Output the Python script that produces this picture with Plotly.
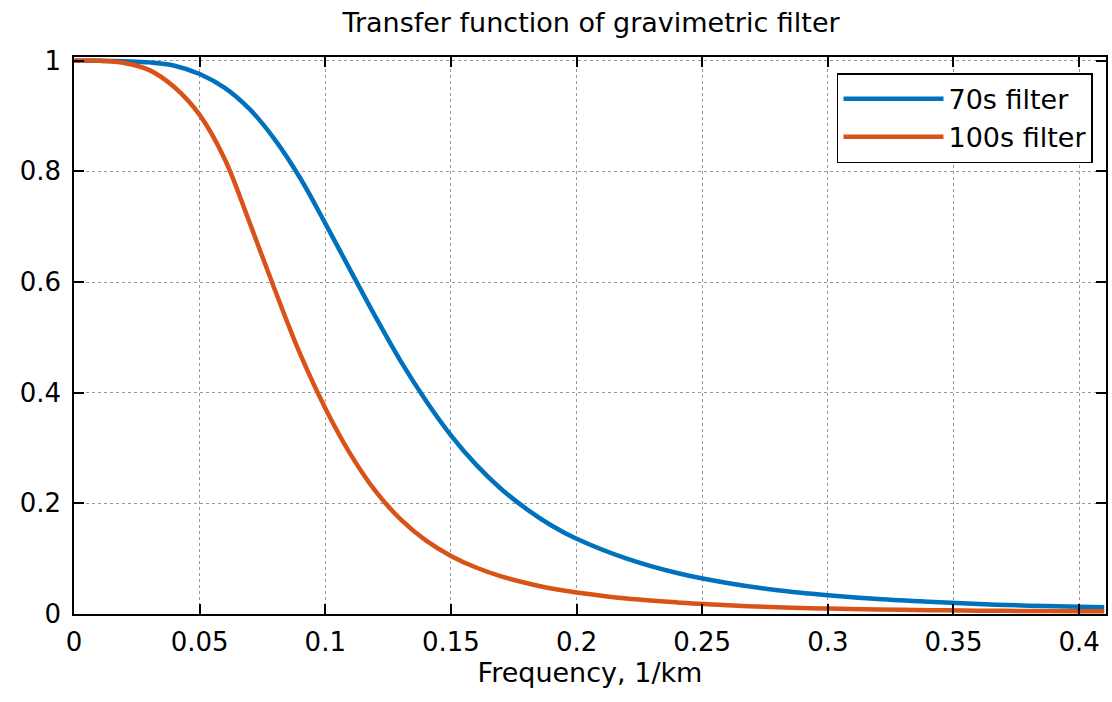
import plotly.graph_objects as go

freq = [0, 0.01, 0.02, 0.03, 0.04, 0.05, 0.06, 0.07, 0.08, 0.09, 0.10,
        0.11, 0.12, 0.13, 0.14, 0.15, 0.16, 0.17, 0.18, 0.19, 0.20,
        0.22, 0.24, 0.26, 0.28, 0.30, 0.32, 0.34, 0.36, 0.38, 0.40, 0.41]

filter_70s = [1.0, 1.0, 0.999, 0.997, 0.991, 0.976, 0.951, 0.912, 0.857, 0.788, 0.706,
              0.621, 0.537, 0.457, 0.386, 0.323, 0.270, 0.226, 0.190, 0.160, 0.136,
              0.100, 0.074, 0.056, 0.043, 0.034, 0.027, 0.022, 0.018, 0.015, 0.013, 0.012]

filter_100s = [1.0, 0.9998, 0.996, 0.983, 0.952, 0.902, 0.822, 0.706, 0.585, 0.470, 0.372,
               0.289, 0.222, 0.171, 0.133, 0.105, 0.084, 0.068, 0.056, 0.046, 0.039,
               0.028, 0.021, 0.016, 0.012, 0.010, 0.008, 0.007, 0.006, 0.0055, 0.005, 0.005]

x_ticks = [0, 0.05, 0.1, 0.15, 0.2, 0.25, 0.3, 0.35, 0.4]
y_ticks = [0, 0.2, 0.4, 0.6, 0.8, 1]

FONT = "DejaVu Sans"

fig = go.Figure()
fig.add_trace(go.Scatter(x=freq, y=filter_70s, mode="lines", name="70s filter",
                         line=dict(color="#0072BD", width=4.5, shape="spline")))
fig.add_trace(go.Scatter(x=freq, y=filter_100s, mode="lines", name="100s filter",
                         line=dict(color="#D95319", width=4.5, shape="spline")))

axis_common = dict(
    showline=True, linecolor="#000000", linewidth=1.5, mirror="ticks",
    ticks="inside", ticklen=10, tickwidth=1.5, tickcolor="#000000",
    showgrid=True, gridcolor="#9a9a9a", gridwidth=1, griddash="dot",
    zeroline=False, tickfont=dict(family=FONT, size=26, color="#000000"),
)

fig.update_layout(
    width=1112, height=702,
    margin=dict(l=74, r=4, t=57, b=88),
    paper_bgcolor="white", plot_bgcolor="white",
    font=dict(family=FONT, size=26, color="#000000"),
    title=dict(text="Transfer function of gravimetric filter", x=0.5315, xanchor="center",
               y=1 - 23 / 702, yanchor="middle",
               font=dict(family=FONT, size=27, color="#000000")),
    xaxis=dict(range=[0, 0.4107], tickvals=x_ticks, ticktext=[str(v) for v in x_ticks],
               title=dict(text="Frequency, 1/km", standoff=6,
                          font=dict(family=FONT, size=27, color="#000000")),
               ticklabelstandoff=4, **axis_common),
    yaxis=dict(range=[0, 1.0067], tickvals=y_ticks, ticktext=[str(v) for v in y_ticks],
               ticklabelstandoff=6, **axis_common),
    legend=dict(x=0.9874, xanchor="right", y=0.971, yanchor="top",
                bgcolor="white", bordercolor="#000000", borderwidth=1.5,
                font=dict(family=FONT, size=27, color="#000000"),
                itemwidth=100, tracegroupgap=0),
    showlegend=True,
)

fig.write_html("out.html")
